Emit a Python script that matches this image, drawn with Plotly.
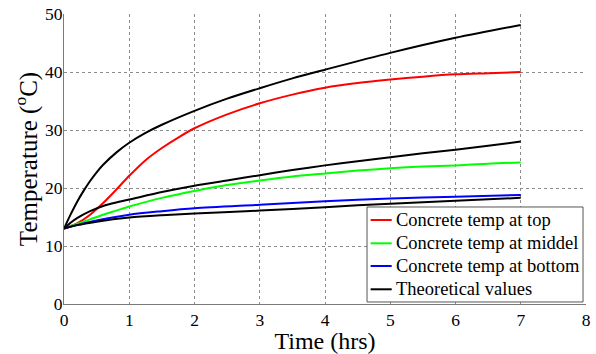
import plotly.graph_objects as go

# Measured concrete temperatures (time in hours, temperature in degrees C)
t_top = [0, 0.2, 0.4, 0.6, 0.8, 1.0, 1.25, 1.5, 1.75, 2.0, 2.5, 3.0, 3.5, 4.0, 4.5, 5.0, 5.5, 6.0, 6.5, 7.0]
temp_top = [13, 13.9, 15.4, 17.4, 19.7, 22.1, 24.8, 26.9, 28.7, 30.3, 32.7, 34.6, 36.1, 37.3, 38.1, 38.7, 39.2, 39.6, 39.8, 40.0]

t_mid = [0, 0.2, 0.4, 0.6, 0.8, 1.0, 1.5, 2.0, 2.5, 3.0, 3.5, 4.0, 4.5, 5.0, 5.5, 6.0, 6.5, 7.0]
temp_mid = [13, 13.8, 14.6, 15.4, 16.1, 16.8, 18.3, 19.5, 20.5, 21.3, 22.0, 22.5, 23.0, 23.4, 23.7, 23.9, 24.2, 24.4]

t_bot = [0, 0.2, 0.5, 1.0, 1.5, 2.0, 3.0, 4.0, 5.0, 6.0, 7.0]
temp_bot = [13, 13.6, 14.4, 15.4, 16.0, 16.5, 17.1, 17.7, 18.2, 18.5, 18.8]

# Theoretical curves
t_th_top = [0, 0.1, 0.2, 0.3, 0.4, 0.5, 0.6, 0.8, 1.0, 1.25, 1.5, 2.0, 2.5, 3.0, 3.5, 4.0, 5.0, 6.0, 7.0]
temp_th_top = [13, 15.4, 17.6, 19.5, 21.2, 22.7, 24.0, 26.1, 27.8, 29.5, 30.9, 33.3, 35.4, 37.2, 38.9, 40.4, 43.3, 45.9, 48.1]

t_th_mid = [0, 0.1, 0.2, 0.4, 0.6, 0.8, 1.0, 1.5, 2.0, 2.5, 3.0, 3.5, 4.0, 4.5, 5.0, 5.5, 6.0, 6.5, 7.0]
temp_th_mid = [13, 14.0, 14.8, 16.0, 16.9, 17.5, 18.0, 19.3, 20.4, 21.3, 22.2, 23.1, 23.9, 24.6, 25.3, 26.0, 26.6, 27.3, 28.0]

t_th_bot = [0, 0.2, 0.5, 1.0, 1.5, 2.0, 3.0, 4.0, 5.0, 6.0, 7.0]
temp_th_bot = [13, 13.6, 14.2, 14.9, 15.3, 15.6, 16.1, 16.7, 17.3, 17.8, 18.3]

x_ticks = [0, 1, 2, 3, 4, 5, 6, 7, 8]
y_ticks = [0, 10, 20, 30, 40, 50]

legend_names = ["Concrete temp at top", "Concrete temp at middel",
                "Concrete temp at bottom", "Theoretical values"]
legend_colors = ["#ff0000", "#00ff00", "#0000ff", "#000000"]

SERIF = "Liberation Serif, Times New Roman, serif"
LW = 2
LINE = dict(width=LW, shape="spline", smoothing=0.8)

fig = go.Figure()
series = [
    (t_top, temp_top, legend_colors[0]),
    (t_mid, temp_mid, legend_colors[1]),
    (t_bot, temp_bot, legend_colors[2]),
    (t_th_top, temp_th_top, legend_colors[3]),
    (t_th_mid, temp_th_mid, legend_colors[3]),
    (t_th_bot, temp_th_bot, legend_colors[3]),
]
names = legend_names[:3] + [legend_names[3]] * 3
for (xs, ys, col), nm in zip(series, names):
    fig.add_trace(go.Scatter(x=xs, y=ys, mode="lines", name=nm,
                             line=dict(color=col, **LINE), showlegend=False))

axis_common = dict(
    showgrid=True, gridcolor="#8c8c8c", griddash="dot", gridwidth=1,
    showline=True, linecolor="#7a7a7a", linewidth=1, automargin=False,
    zeroline=False, ticks="", tickfont=dict(family=SERIF, size=17.5, color="#000"),
)

# Legend box in the lower right corner of the plotting area (paper coordinates)
box_x0, box_x1 = 0.5805, 0.9943
box_y0, box_y1 = 0.007, 0.3345
key_x0, key_x1, text_x = 0.5874, 0.6278, 0.6322
row_y = [0.2897, 0.2093, 0.1310, 0.0507]

shapes = [dict(type="rect", xref="paper", yref="paper", x0=box_x0, x1=box_x1,
               y0=box_y0, y1=box_y1, line=dict(color="#555", width=1),
               fillcolor="white", layer="above")]
annotations = []
for name, col, ry in zip(legend_names, legend_colors, row_y):
    shapes.append(dict(type="line", xref="paper", yref="paper", x0=key_x0, x1=key_x1,
                       y0=ry, y1=ry, line=dict(color=col, width=LW), layer="above"))
    annotations.append(dict(text=name, xref="paper", yref="paper", x=text_x, y=ry,
                            xanchor="left", yanchor="middle", showarrow=False,
                            font=dict(family=SERIF, size=18.5, color="#000")))

fig.update_layout(
    width=596, height=354,
    margin=dict(l=64, r=10, t=14, b=50),
    paper_bgcolor="white", plot_bgcolor="white",
    font=dict(family=SERIF, color="#000"),
    xaxis=dict(range=[0, 8], tickvals=x_ticks, ticktext=[str(v) for v in x_ticks],
               title=dict(text="Time (hrs)", font=dict(family=SERIF, size=24), standoff=6),
               **axis_common),
    yaxis=dict(range=[0, 50], tickvals=y_ticks, ticktext=[str(v) for v in y_ticks],
               ticklabelstandoff=-3,
               title=dict(text="Temperature (<sup>o</sup>C)", font=dict(family=SERIF, size=25), standoff=0),
               **axis_common),
    shapes=shapes,
    annotations=annotations,
    showlegend=False,
)

fig.write_html("out.html")
